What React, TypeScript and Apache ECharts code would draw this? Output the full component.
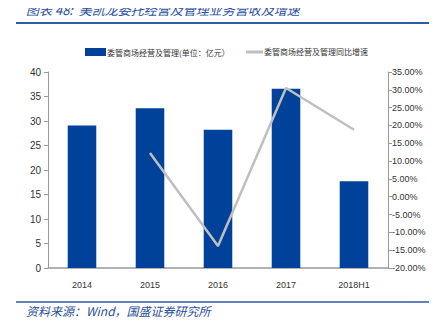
import React, { useEffect, useRef } from "react";
import * as echarts from "echarts";

const categories = ["2014", "2015", "2016", "2017", "2018H1"];
const revenue = [29.1, 32.6, 28.2, 36.6, 17.7];
const growth: (number | null)[] = [null, 12.3, -13.8, 30.5, 18.8];
const barName = "委管商场经营及管理(单位：亿元）";
const lineName = "委管商场经营及管理同比增速";

const narrow = "'Liberation Sans Narrow', 'Liberation Sans', Arial, sans-serif";
const cjk = "'Noto Sans CJK SC', sans-serif";

export default function App() {
  const ref = useRef<HTMLDivElement>(null);
  useEffect(() => {
    if (!ref.current) return;
    const chart = echarts.init(ref.current, null, { renderer: "svg" });
    const legendText = { fontFamily: cjk, fontSize: 8, color: "#333", padding: [0, 0, 0, -4] };
    chart.setOption({
      animation: false,
      backgroundColor: "#ffffff",
      graphic: [
        {
          type: "text",
          left: 26,
          top: 3,
          style: {
            text: "图表 48:  美凯龙委托经营及管理业务营收及增速",
            fill: "#2a4f9c",
            font: `italic 13px ${cjk}`,
          },
        },
        {
          type: "line",
          shape: { x1: 16, y1: 23, x2: 432, y2: 23 },
          style: { stroke: "#2e5aa6", lineWidth: 2 },
        },
        {
          type: "line",
          shape: { x1: 16, y1: 302, x2: 432, y2: 302 },
          style: { stroke: "#2e5aa6", lineWidth: 1.5 },
        },
        {
          type: "text",
          left: 26,
          top: 304,
          style: {
            text: "资料来源：Wind，国盛证券研究所",
            fill: "#2a4f9c",
            font: `italic 12px ${cjk}`,
          },
        },
      ],
      legend: [
        {
          top: 43,
          left: 80,
          itemWidth: 21,
          itemHeight: 8,
          textStyle: legendText,
          data: [{ name: barName, icon: "rect" }],
        },
        {
          top: 43,
          left: 241,
          itemWidth: 17,
          itemHeight: 3,
          textStyle: legendText,
          data: [{ name: lineName, icon: "rect" }],
        },
      ],
      grid: { left: 48, right: 49, top: 72, bottom: 65 },
      xAxis: {
        type: "category",
        data: categories,
        axisLine: { lineStyle: { color: "#999", width: 1.5 } },
        axisTick: { inside: true, length: 4, lineStyle: { color: "#999" } },
        axisLabel: { fontFamily: narrow, fontSize: 9, color: "#333", margin: 12 },
      },
      yAxis: [
        {
          type: "value",
          min: 0,
          max: 40,
          interval: 5,
          splitLine: { show: false },
          axisLine: { show: true, lineStyle: { color: "#999" } },
          axisTick: { show: true, length: 4, lineStyle: { color: "#999" } },
          axisLabel: { fontFamily: narrow, fontSize: 10, color: "#333", margin: 7 },
        },
        {
          type: "value",
          min: -20,
          max: 35,
          interval: 5,
          splitLine: { show: false },
          axisLine: { show: true, lineStyle: { color: "#999" } },
          axisTick: { show: true, length: 4, lineStyle: { color: "#999" } },
          axisLabel: {
            fontFamily: narrow,
            fontSize: 9,
            color: "#333",
            margin: 4,
            formatter: (v: number) => v.toFixed(2) + "%",
          },
        },
      ],
      series: [
        {
          name: barName,
          type: "bar",
          data: revenue,
          barWidth: "42%",
          itemStyle: { color: "#00419a" },
        },
        {
          name: lineName,
          type: "line",
          yAxisIndex: 1,
          data: growth,
          symbol: "none",
          lineStyle: { color: "#bfbfbf", width: 2.5 },
          itemStyle: { color: "#bfbfbf" },
        },
      ],
    });
    return () => chart.dispose();
  }, []);
  return <div ref={ref} style={{ width: 437, height: 333, margin: -8 }} />;
}
